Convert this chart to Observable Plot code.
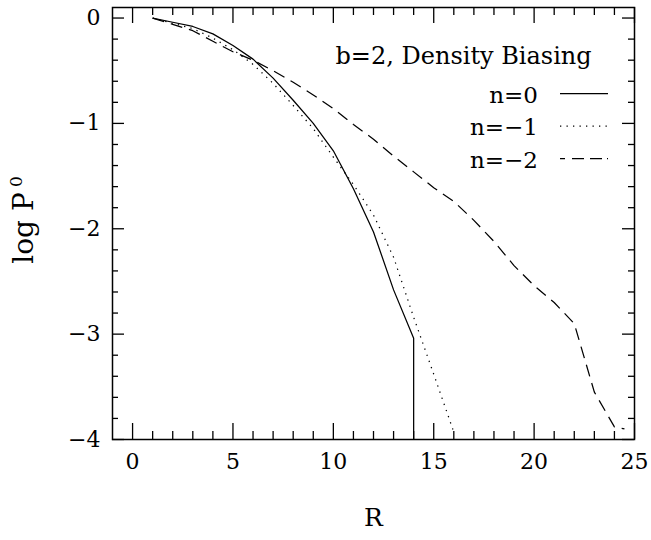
<!DOCTYPE html>
<html>
<head>
<meta charset="utf-8">
<script src="https://cdn.jsdelivr.net/npm/d3@7"></script>
<script src="https://cdn.jsdelivr.net/npm/@observablehq/plot@0.6"></script>
<style>
  html, body { margin: 0; padding: 0; background: #fff; }
  svg { display: block; }
</style>
</head>
<body>
<div id="chart"></div>
<script>
// ---- data ----
const rN0 = [1, 2, 3, 4, 5, 6, 7, 8, 9, 10, 11, 12, 13, 14, 14];
const logP0_n0 = [0, -0.04, -0.08, -0.15, -0.26, -0.39, -0.57, -0.78, -1.0, -1.26, -1.62, -2.03, -2.58, -3.04, -4];

const rN1 = [1, 2, 3, 4, 5, 6, 7, 8, 9, 10, 11, 12, 13, 14, 15, 16];
const logP0_n1 = [0, -0.05, -0.1, -0.19, -0.3, -0.44, -0.62, -0.83, -1.05, -1.32, -1.58, -1.87, -2.27, -2.84, -3.38, -3.93];

const rN2 = [1, 2, 3, 4, 5, 6, 7, 8, 9, 10, 11, 12, 13, 14, 15, 16, 17, 18, 19, 20, 21, 22, 23, 24, 24.5];
const logP0_n2 = [0, -0.06, -0.12, -0.22, -0.32, -0.4, -0.5, -0.61, -0.73, -0.86, -1.01, -1.15, -1.31, -1.46, -1.61, -1.74, -1.92, -2.12, -2.35, -2.54, -2.7, -2.9, -3.55, -3.88, -3.9];

const seriesLabels = ["n=0", "n=\u22121", "n=\u22122"];
const titleText = "b=2, Density Biasing";
const xTickValues = [0, 5, 10, 15, 20, 25];
const yTickValues = [-4, -3, -2, -1, 0];
const xLabel = "R";
const yLabel = "log P";
const yLabelSub = "0";

// ---- layout ----
const W = 651, H = 540;
const mL = 112, mR = 17, mT = 7, mB = 101;
const PW = W - mL - mR, PH = H - mT - mB;

const dashes = [null, "1.3,5.2", "12,7"];

const xMinor = d3.range(0, 26).filter(d => d % 5 !== 0);
const yMinor = d3.range(-20, 1).map(d => d / 5).filter(d => Math.abs(d - Math.round(d)) > 1e-9);

const toRows = (xs, ys) => xs.map((r, i) => ({ r, v: ys[i] }));
const series = [toRows(rN0, logP0_n0), toRows(rN1, logP0_n1), toRows(rN2, logP0_n2)];

const fmt = d => (d < 0 ? "\u2212" + Math.abs(d) : String(d));

const tickStyle = { stroke: "#000", strokeWidth: 1.3 };

const chart = Plot.plot({
  width: W,
  height: H,
  marginLeft: mL,
  marginRight: mR,
  marginTop: mT,
  marginBottom: mB,
  x: { domain: [-1, 25] },
  y: { domain: [-4, 0.1] },
  style: { fontFamily: "'DejaVu Serif', serif", fontSize: "22px", color: "#000", background: "#fff" },
  marks: [
    // ticks (inward, all four sides)
    Plot.tickX(xTickValues, { x: d => d, insetTop: PH - 16, ...tickStyle }),
    Plot.tickX(xTickValues, { x: d => d, insetBottom: PH - 16, ...tickStyle }),
    Plot.tickX(xMinor, { x: d => d, insetTop: PH - 8, ...tickStyle }),
    Plot.tickX(xMinor, { x: d => d, insetBottom: PH - 8, ...tickStyle }),
    Plot.tickY(yTickValues, { y: d => d, insetRight: PW - 12, ...tickStyle }),
    Plot.tickY(yTickValues, { y: d => d, insetLeft: PW - 12, ...tickStyle }),
    Plot.tickY(yMinor, { y: d => d, insetRight: PW - 6, ...tickStyle }),
    Plot.tickY(yMinor, { y: d => d, insetLeft: PW - 6, ...tickStyle }),
    // curves
    ...series.map((rows, i) => Plot.line(rows, {
      x: "r", y: "v", stroke: "#000", strokeWidth: 1.25,
      strokeDasharray: dashes[i] || undefined, strokeLinecap: "butt", clip: true
    })),
    Plot.frame({ stroke: "#000", strokeWidth: 1.5 }),
    // axes
    Plot.axisX(xTickValues, { tickSize: 0, tickPadding: 14, tickFormat: fmt, fontSize: 22, label: null }),
    Plot.axisY(yTickValues, { tickSize: 0, tickPadding: 12, tickFormat: fmt, fontSize: 22, label: null }),
    // axis titles
    Plot.text([xLabel], { text: d => d, frameAnchor: "bottom", dy: 78, lineAnchor: "middle", fontSize: 25 }),
    Plot.text([yLabel], { text: d => d, frameAnchor: "left", dx: -88, dy: 4.5, rotate: -90, lineAnchor: "middle", textAnchor: "middle", fontSize: 28 }),
    Plot.text([yLabelSub], { text: d => d, frameAnchor: "left", dx: -96, dy: -42, rotate: -90, lineAnchor: "middle", textAnchor: "middle", fontSize: 17 }),
    // in-plot title
    Plot.text([titleText], { text: d => d, frameAnchor: "top-left", dx: 223, dy: 56, lineAnchor: "bottom", textAnchor: "start", fontSize: 24 })
  ]
});

document.getElementById("chart").appendChild(chart);

// legend (text right-aligned, line swatches)
const svg = d3.select(chart);
const lg = svg.append("g").attr("font-family", "'DejaVu Serif', serif").attr("font-size", 23);
const baselines = [102.5, 135, 167.5];
seriesLabels.forEach((lab, i) => {
  lg.append("text").attr("x", 538).attr("y", baselines[i]).attr("text-anchor", "end").attr("fill", "#000").text(lab);
  const ln = lg.append("line")
    .attr("x1", 560).attr("x2", 608)
    .attr("y1", baselines[i] - 9).attr("y2", baselines[i] - 9)
    .attr("stroke", "#000").attr("stroke-width", 1.25);
  if (dashes[i]) ln.attr("stroke-dasharray", i === 2 ? "5,7,12,6,12" : dashes[i]);
});
</script>
</body>
</html>
